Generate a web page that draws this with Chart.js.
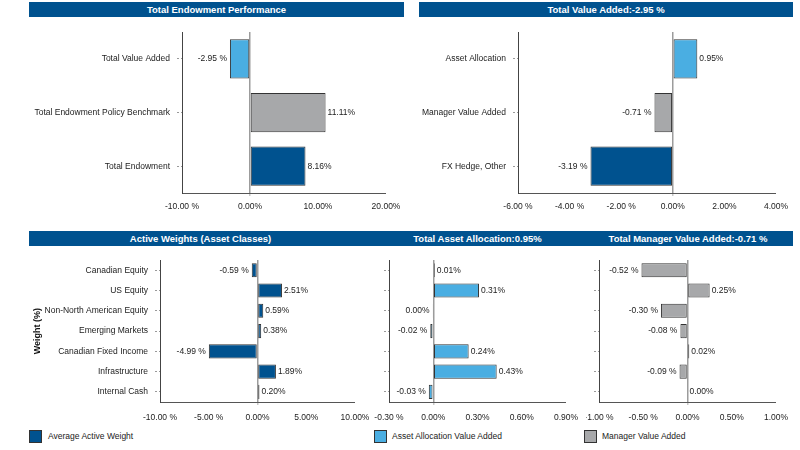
<!DOCTYPE html>
<html>
<head>
<meta charset="utf-8">
<script src="https://cdn.jsdelivr.net/npm/chart.js@4"></script>
<style>
  html,body{margin:0;padding:0;background:#fff;width:800px;height:450px;overflow:hidden;font-family:"Liberation Sans",Arial,sans-serif;}
  .bar{position:absolute;background:#00528f;color:#fff;font-weight:bold;font-size:9.5px;line-height:15px;text-align:center;white-space:nowrap;}
  .cv{position:absolute;}
  .lg{position:absolute;font-size:8.5px;color:#222;white-space:nowrap;}
  .sq{position:absolute;width:11px;height:11px;border:1px solid #333;}
</style>
</head>
<body>
<div class="bar" style="left:29px;top:2px;width:375px;height:15px;">Total Endowment Performance</div>
<div class="bar" style="left:419px;top:2px;width:374px;height:15px;">Total Value Added:-2.95 %</div>
<div class="bar" style="left:29px;top:231px;width:764px;height:15px;"></div>
<div class="bar" style="left:29px;top:231px;width:343px;height:15px;background:transparent;">Active Weights (Asset Classes)</div>
<div class="bar" style="left:372px;top:231px;width:211px;height:15px;background:transparent;">Total Asset Allocation:0.95%</div>
<div class="bar" style="left:583px;top:231px;width:210px;height:15px;background:transparent;">Total Manager Value Added:-0.71 %</div>

<canvas id="c1" class="cv" style="left:0;top:20px;" width="400" height="200"></canvas>
<canvas id="c2" class="cv" style="left:400px;top:20px;" width="400" height="200"></canvas>
<canvas id="c3" class="cv" style="left:0;top:248px;" width="372" height="181"></canvas>
<canvas id="c4" class="cv" style="left:372px;top:248px;" width="214" height="181"></canvas>
<canvas id="c5" class="cv" style="left:586px;top:248px;" width="214" height="181"></canvas>

<div class="sq" style="left:29px;top:430px;background:#00528f;"></div>
<div class="lg" style="left:48px;top:431px;">Average Active Weight</div>
<div class="sq" style="left:374px;top:430px;background:#4aaee2;"></div>
<div class="lg" style="left:392px;top:431px;">Asset Allocation Value Added</div>
<div class="sq" style="left:584px;top:430px;background:#a7a8aa;"></div>
<div class="lg" style="left:602px;top:431px;">Manager Value Added</div>

<script>
// ---- data ----
const perfCategories = ["Total Value Added", "Total Endowment Policy Benchmark", "Total Endowment"];
const perfValues = [-2.95, 11.11, 8.16];

const vaCategories = ["Asset Allocation", "Manager Value Added", "FX Hedge, Other"];
const vaValues = [0.95, -0.71, -3.19];

const assetClasses = ["Canadian Equity", "US Equity", "Non-North American Equity", "Emerging Markets", "Canadian Fixed Income", "Infrastructure", "Internal Cash"];
const activeWeights = [-0.59, 2.51, 0.59, 0.38, -4.99, 1.89, 0.20];
const assetAllocationVA = [0.01, 0.31, -0.004, -0.02, 0.24, 0.43, -0.03];
const managerVA = [-0.52, 0.25, -0.30, -0.08, 0.02, -0.09, 0.00];

const perfTicks = {min: -10, max: 20, step: 10};
const vaTicks = {min: -6, max: 4, step: 2};
const awTicks = {min: -10, max: 10, step: 5};
const aaTicks = {min: -0.3, max: 0.9, step: 0.3};
const mvTicks = {min: -1, max: 1, step: 0.5};

// ---- styles ----
const DARK = '#00528f', LIGHT = '#4aaee2', GREY = '#a7a8aa';
const FONT = '"Liberation Sans", Arial, sans-serif';

function fmt(v) {
  const s = Number(v).toFixed(2);
  if (s.startsWith('-') && s !== '-0.00') return s + ' %';
  return s.replace('-', '') + '%';
}

const valueLabels = {
  id: 'valueLabels',
  afterDatasetsDraw(chart) {
    const ctx = chart.ctx;
    const ds = chart.data.datasets[0];
    const meta = chart.getDatasetMeta(0);
    ctx.save();
    ctx.font = '8.5px ' + FONT;
    ctx.fillStyle = '#222';
    ctx.textBaseline = 'middle';
    meta.data.forEach((el, i) => {
      const v = ds.data[i];
      const lo = Math.min(el.x, el.base), hi = Math.max(el.x, el.base);
      if (v < 0) { ctx.textAlign = 'right'; ctx.fillText(fmt(v), lo - 3, el.y); }
      else { ctx.textAlign = 'left'; ctx.fillText(fmt(v), hi + 2, el.y); }
    });
    ctx.restore();
  }
};

function makeChart(id, labels, values, colors, t, o) {
  return new Chart(document.getElementById(id), {
    type: 'bar',
    data: {labels, datasets: [{data: values, backgroundColor: colors, borderColor: '#333', borderWidth: 1, borderSkipped: false, barPercentage: o.bar, categoryPercentage: 1}]},
    options: {
      indexAxis: 'y', responsive: false, animation: false, devicePixelRatio: 1,
      layout: {padding: {top: 5, right: o.padR, left: 0, bottom: 0}},
      plugins: {legend: {display: false}, tooltip: {enabled: false}},
      scales: {
        x: {
          min: t.min, max: t.max,
          afterBuildTicks: s => { const a = []; for (let v = t.min; v <= t.max + 1e-9; v += t.step) a.push({value: Math.round(v * 1000) / 1000}); s.ticks = a; },
          afterFit: s => { s.height = 27; s.paddingLeft = 0; s.paddingRight = 0; },
          grid: {color: c => (c.tick && c.tick.value === 0) ? '#9c9c9c' : 'rgba(0,0,0,0)', lineWidth: c => (c.tick && c.tick.value === 0) ? 1.5 : 0, tickColor: '#c8c8c8', tickLength: 4, tickBorderDash: [2, 1]},
          border: {display: true, color: '#555', width: 1},
          ticks: {callback: v => fmt(v), font: {size: 8.5, family: FONT}, color: '#222', padding: o.tickPad, maxRotation: 0, autoSkip: false}
        },
        y: {
          afterFit: s => { s.width = o.yW; },
          grid: {offset: false, drawOnChartArea: false, tickColor: '#999', tickLength: 5, tickBorderDash: [2, 2]},
          border: {display: true, color: '#444', width: 1},
          ticks: {callback: function(v, i) { return o.showLabels ? this.getLabelForValue(v) : ''; }, font: {size: 8.5, family: FONT}, color: '#222', padding: 7, autoSkip: false},
          title: o.title ? {display: true, text: o.title, font: {size: 9, weight: 'bold', family: FONT}, color: '#111', padding: {top: 32, bottom: 0}} : {display: false}
        }
      }
    },
    plugins: [valueLabels]
  });
}

makeChart('c1', perfCategories, perfValues, [LIGHT, GREY, DARK], perfTicks, {bar: 0.73, padR: 14, yW: 182, showLabels: true, tickPad: 5});
makeChart('c2', vaCategories, vaValues, [LIGHT, GREY, DARK], vaTicks, {bar: 0.73, padR: 24, yW: 118, showLabels: true, tickPad: 5});
makeChart('c3', assetClasses, activeWeights, [DARK, DARK, DARK, DARK, DARK, DARK, GREY], awTicks, {bar: 0.7, padR: 17, yW: 160, showLabels: true, title: 'Weight (%)', tickPad: 7});
makeChart('c4', assetClasses, assetAllocationVA, [LIGHT, LIGHT, GREY, LIGHT, LIGHT, LIGHT, LIGHT], aaTicks, {bar: 0.7, padR: 20, yW: 17, showLabels: false, tickPad: 7});
makeChart('c5', assetClasses, managerVA, [GREY, GREY, GREY, GREY, '#ffffff', GREY, GREY], mvTicks, {bar: 0.7, padR: 24, yW: 13, showLabels: false, tickPad: 7});
</script>
</body>
</html>
